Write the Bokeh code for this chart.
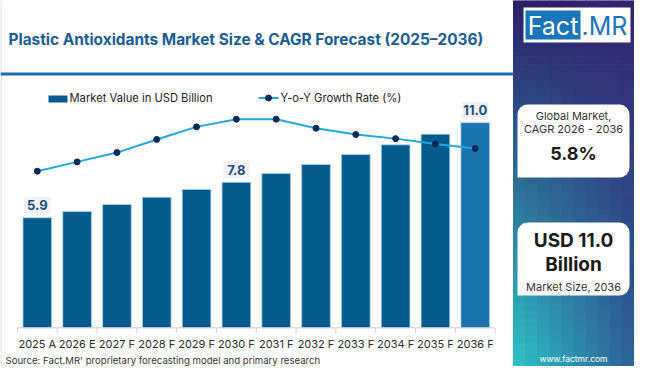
from bokeh.plotting import figure
from bokeh.models import Range1d, ColumnDataSource, BoxAnnotation, Label
from bokeh.core.properties import value
from bokeh.embed import file_html
from bokeh.resources import INLINE

# ---------------- data ----------------
years = ["2025 A", "2026 E", "2027 F", "2028 F", "2029 F", "2030 F",
         "2031 F", "2032 F", "2033 F", "2034 F", "2035 F", "2036 F"]
market_value = [5.9, 6.24, 6.61, 7.0, 7.42, 7.8, 8.27, 8.76, 9.29, 9.81, 10.38, 11.0]
yoy_growth = [5.0, 5.34, 5.68, 6.16, 6.62, 6.90, 6.90, 6.57, 6.34, 6.19, 5.99, 5.83]
labelled_years = ["2025 A", "2030 F", "2036 F"]

title_text = "Plastic Antioxidants Market Size & CAGR Forecast (2025\u20132036)"
legend_bar = "Market Value in USD Billion"
legend_line = "Y-o-Y Growth Rate (%)"
source_text = "Source: Fact.MR' proprietary forecasting model and primary research"
cagr_value = "5.8%"
size_value = "USD 11.0"

FONT = "Inter"
BAR = "#055a8e"
BAR_LAST = "#1b73ae"
LINE = "#22a7df"
DOT = "#0b2a5b"
TITLE_C = "#1a5c96"

# ---------------- figure ----------------
p = figure(width=634, height=366, x_range=Range1d(0, 634), y_range=Range1d(366, 0),
           output_backend="svg", toolbar_location=None, min_border=0,
           x_axis_type=None, y_axis_type=None)
p.grid.visible = False
p.outline_line_color = None
p.background_fill_color = "white"
p.border_fill_color = "white"
p.extra_x_ranges = {"idx": Range1d(-0.9246, 15.0)}
p.extra_y_ranges = {"val": Range1d(-2.075, 17.55), "gr": Range1d(-2.136, 11.237)}

# ---------------- right gradient panel ----------------
def hex2rgb(h):
    return [int(h[i:i + 2], 16) for i in (1, 3, 5)]

TL, TR, BL, BR = map(hex2rgb, ["#2b1d68", "#34246f", "#2ec5c9", "#2c5f96"])
x0p, x1p, y0p, y1p = 513, 634, 0, 366
nr, nc = 46, 10
L, R, T, B, C = [], [], [], [], []
for r in range(nr):
    for c in range(nc):
        fy = (r + 0.5) / nr
        fx = (c + 0.5) / nc
        col = []
        for k in range(3):
            top = TL[k] * (1 - fx) + TR[k] * fx
            bot = BL[k] * (1 - fx) + BR[k] * fx
            col.append(int(round(top * (1 - fy) + bot * fy)))
        L.append(x0p + (x1p - x0p) * c / nc)
        R.append(x0p + (x1p - x0p) * (c + 1) / nc)
        T.append(y0p + (y1p - y0p) * r / nr)
        B.append(y0p + (y1p - y0p) * (r + 1) / nr)
        C.append("#%02x%02x%02x" % tuple(col))
p.quad(left=L, right=R, top=T, bottom=B, fill_color=C, line_color=C, line_width=1, level="image")

# light frame border on the left / bottom of the white panel
p.quad(left=[0], right=[1], top=[0], bottom=[366], fill_color="#d8d8d8", line_color=None, level="image")

# logo
p.quad(left=[523], right=[630], top=[7], bottom=[42], fill_color="white", line_color=None, level="image")
p.quad(left=[525], right=[580], top=[10], bottom=[39], fill_color="#1b75bb", line_color=None, level="image")
p.add_layout(Label(x=552.5, y=25, text="Fact", text_align="center", text_baseline="middle",
                   text_font=FONT, text_font_size="25px", text_color="white"))
p.add_layout(Label(x=581, y=25, text=".MR", text_align="left", text_baseline="middle",
                   text_font=FONT, text_font_size="25px", text_color="#1b75bb"))

# info boxes
for top, bot in [(104, 177), (222, 295)]:
    p.add_layout(BoxAnnotation(left=517, right=629, top=top, bottom=bot, fill_color="white",
                               fill_alpha=1, line_color=None, border_radius=(10, 10, 10, 0),
                               level="underlay"))

def lab(x, y, t, size, bold=False, color="#222222", align="center"):
    p.add_layout(Label(x=x, y=y, text=t, text_align=align, text_baseline="middle",
                       text_font=FONT, text_font_size=size,
                       text_font_style="bold" if bold else "normal", text_color=color))

CX = 573
lab(CX, 115, "Global Market,", "11px", color="#333333")
lab(CX, 128, "CAGR 2026 - 2036", "11px", color="#333333")
lab(CX, 153, cagr_value, "18px", bold=True, color="#1a1a1a")
lab(CX, 240, size_value, "19px", bold=True, color="#1a1a1a")
lab(CX, 264, "Billion", "19px", bold=True, color="#1a1a1a")
lab(CX, 286, "Market Size, 2036", "11px", color="#333333")
lab(CX, 358, "www.factmr.com", "8.5px", color="white")

# title & rule
lab(8, 39, title_text, "15.4px", bold=True, color=TITLE_C, align="left")
p.quad(left=[0], right=[513], top=[72], bottom=[75], fill_color="#1b6ea8", line_color=None)

# legend
p.quad(left=[48], right=[67], top=[95], bottom=[102], fill_color=BAR, line_color=None)
lab(69, 97.5, legend_bar, "11.2px", color="#222222", align="left")
p.line(x=[258, 278], y=[97.5, 97.5], line_color=LINE, line_width=2)
p.scatter(x=[268], y=[97.5], size=6, fill_color=DOT, line_color=DOT)
lab(280, 97.5, legend_line, "11.2px", color="#222222", align="left")

# source
lab(5, 359.5, source_text, "9.6px", color="#333333", align="left")

# ---------------- chart ----------------
idx = list(range(len(years)))
colors = [BAR] * (len(years) - 1) + [BAR_LAST]
src = ColumnDataSource(dict(i=idx, year=years, v=market_value, g=yoy_growth, color=colors))

p.vbar(x="i", top="v", bottom=0, width=0.72, source=src, fill_color="color",
       line_color="#a9d3ef", line_width=0.8, x_range_name="idx", y_range_name="val")

# axis line, ticks, tick labels
bounds = [k - 0.5 for k in range(len(years) + 1)]
p.segment(x0=[-0.5], x1=[len(years) - 0.5], y0=[0], y1=[0], line_color="#d0d0d0",
          line_width=1, x_range_name="idx", y_range_name="val")
p.segment(x0=bounds, x1=bounds, y0=[0] * len(bounds), y1=[-0.27] * len(bounds),
          line_color="#d0d0d0", line_width=1, x_range_name="idx", y_range_name="val")
p.text(x="i", y=0, text="year", source=src, text_align="center", text_baseline="middle",
       y_offset=16, text_font=value(FONT), text_font_size="11px", text_color="#2a2a2a",
       x_range_name="idx", y_range_name="val")

# growth line
p.line(x="i", y="g", source=src, line_color=LINE, line_width=2, x_range_name="idx", y_range_name="gr")
p.scatter(x="i", y="g", source=src, size=6, fill_color=DOT, line_color=DOT,
          x_range_name="idx", y_range_name="gr")

# data labels
sel = [k for k, y in enumerate(years) if y in labelled_years]
lsrc = ColumnDataSource(dict(i=[idx[k] for k in sel], v=[market_value[k] + 0.67 for k in sel],
                             t=["%.1f" % market_value[k] for k in sel]))
p.rect(x="i", y="v", width=26, height=17, width_units="screen", height_units="screen",
       source=lsrc, fill_color="#eef1f6", line_color=None, x_range_name="idx", y_range_name="val")
p.text(x="i", y="v", text="t", source=lsrc, text_align="center", text_baseline="middle",
       text_font=value(FONT), text_font_size="13px", text_font_style="bold", text_color="#1d4e7c",
       x_range_name="idx", y_range_name="val")

open("out.html", "w").write(file_html(p, INLINE))
